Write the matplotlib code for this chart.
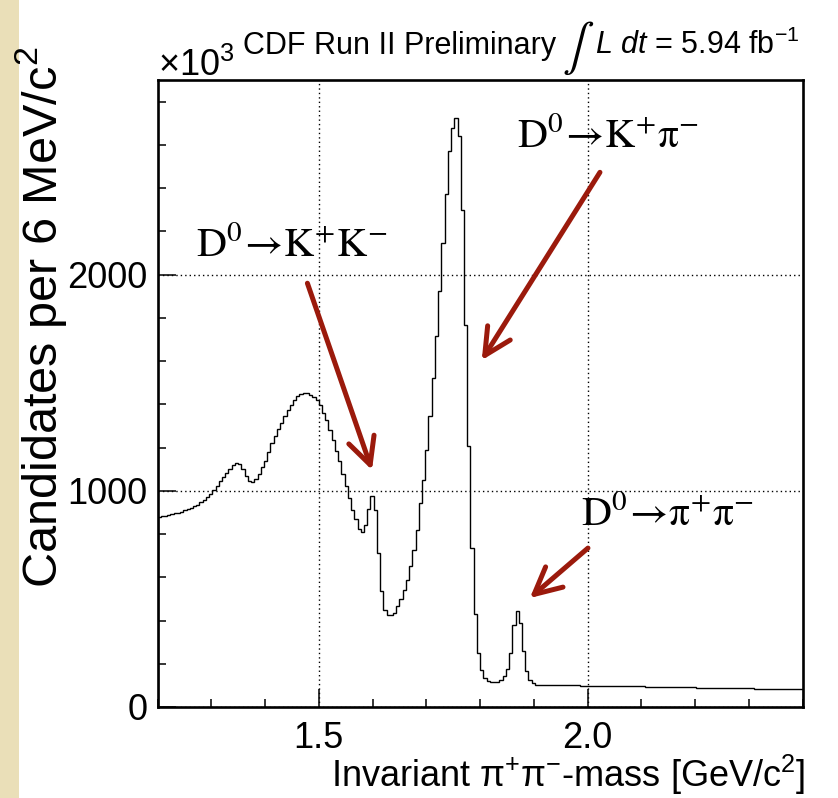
import numpy as np
import matplotlib
matplotlib.use("Agg")
import matplotlib.pyplot as plt
from matplotlib.ticker import MultipleLocator, FixedLocator
from matplotlib.patches import Rectangle

# ---------------- data ----------------
bin_low = 1.2
bin_width = 0.006   # 6 MeV/c^2 bins
counts = [
    878, 882, 885, 888, 891, 895, 899, 904, 909, 915,
    921, 928, 936, 946, 958, 971, 987, 1003, 1022, 1043,
    1064, 1083, 1103, 1120, 1128, 1125, 1100, 1070, 1045, 1040,
    1055, 1078, 1108, 1140, 1180, 1222, 1255, 1285, 1315, 1345,
    1375, 1398, 1420, 1437, 1448, 1453, 1452, 1445, 1432, 1418,
    1395, 1362, 1327, 1282, 1236, 1182, 1136, 1076, 1020, 966,
    912, 869, 825, 808, 843, 915, 974, 909, 712, 538,
    449, 426, 426, 436, 465, 500, 542, 588, 650, 727,
    819, 943, 1051, 1190, 1344, 1522, 1714, 1923, 2147, 2371,
    2571, 2679, 2726, 2641, 2301, 1769, 1205, 735, 430, 250,
    171, 133, 122, 116, 114, 117, 125, 145, 175, 250,
    380, 446, 390, 260, 165, 125, 110, 104, 103, 103,
    102, 102, 102, 101, 101, 101, 101, 100, 100, 100,
    100, 99, 99, 99, 99, 98, 98, 98, 98, 97,
    97, 97, 97, 96, 96, 96, 96, 95, 95, 95,
    95, 94, 94, 94, 94, 93, 93, 93, 93, 92,
    92, 92, 92, 91, 91, 91, 91, 90, 90, 90,
    89, 89, 89, 89, 88, 88, 88, 88, 87, 87,
    87, 86, 86, 86, 86, 85, 85, 85, 85, 84,
    84, 84, 84, 83, 83, 83, 83, 82, 82, 82,
]
x_major = [1.5, 2.0]
x_major_labels = ["1.5", "2.0"]
y_major = [0, 1000, 2000]
y_major_labels = ["0", "1000", "2000"]

# annotations: label, label position, arrow start, arrow end (data coords)
ann_labels = [r"$\mathrm{D^0\!\rightarrow\! K^{+}K^{-}}$",
              r"$\mathrm{D^0\!\rightarrow\! K^{+}\pi^{-}}$",
              r"$\mathrm{D^0\!\rightarrow\! \pi^{+}\pi^{-}}$"]
ann_text_pos = [(1.272, 2130), (1.868, 2635), (1.987, 890)]
ann_arrow_from = [(1.4788, 1960), (2.0229, 2473), (2.0006, 735)]
ann_arrow_to = [(1.5989, 1096), (1.8031, 1604), (1.8925, 504)]

# ---------------- style ----------------
plt.rcParams['font.family'] = ['Liberation Sans', 'DejaVu Sans']
plt.rcParams['mathtext.fontset'] = 'custom'
plt.rcParams['mathtext.rm'] = 'Liberation Sans'
plt.rcParams['mathtext.it'] = 'Liberation Sans:italic'
plt.rcParams['mathtext.bf'] = 'Liberation Sans:bold'
plt.rcParams['mathtext.sf'] = 'Liberation Sans'

W, H = 838, 798
fig = plt.figure(figsize=(W / 100, H / 100), dpi=100)
fig.patch.set_facecolor('white')
fig.patches.append(Rectangle((0, 0), 19 / W, 1, transform=fig.transFigure,
                             facecolor='#eadfb8', edgecolor='none', zorder=0))

L, R, B, T = 157.5, 802.7, 707, 80
ax = fig.add_axes([L / W, 1 - B / H, (R - L) / W, (B - T) / H])

edges = bin_low + bin_width * np.arange(len(counts) + 1)
ax.stairs(counts, edges, color='black', linewidth=1.0, zorder=3)

ax.set_xlim(1.2, 2.4)
ax.set_ylim(0, 2900)

ax.xaxis.set_major_locator(FixedLocator(x_major))
ax.set_xticklabels(x_major_labels)
ax.xaxis.set_minor_locator(MultipleLocator(0.1))
ax.yaxis.set_major_locator(FixedLocator(y_major))
ax.set_yticklabels(y_major_labels)
ax.yaxis.set_minor_locator(MultipleLocator(200))

ax.tick_params(which='both', direction='in', top=False, right=False,
               width=1.1, colors='black', labelsize=26)
ax.tick_params(which='major', length=13)
ax.tick_params(which='minor', length=6)
ax.tick_params(axis='x', which='major', pad=10)
ax.tick_params(axis='y', which='major', pad=7)
for s in ax.spines.values():
    s.set_linewidth(1.9)

ax.grid(True, which='major', color='black', linestyle=(0, (1, 2.2)), linewidth=1.0)

# annotations
for lab, tp, a0, a1 in zip(ann_labels, ann_text_pos, ann_arrow_from, ann_arrow_to):
    ax.text(tp[0], tp[1], lab, fontsize=30, ha='left', va='center',
            math_fontfamily='stix', zorder=5)
    ax.annotate('', xy=a1, xytext=a0,
                arrowprops=dict(arrowstyle='->,head_length=1.2,head_width=0.6',
                                color='#9b1a0c', lw=3.6, shrinkA=0, shrinkB=0,
                                mutation_scale=16), zorder=6)

# axis titles
fig.text(805 / W, 1 - 775 / H, r'Invariant π$^{+}$π$^{-}$-mass [GeV/c$^{2}$]',
         ha='right', va='center', fontsize=26)
fig.text(41 / W, 1 - 47 / H, r'Candidates per 6 MeV/c$^{2}$', rotation=90,
         ha='center', va='top', fontsize=35)
fig.text(158 / W, 1 - 66 / H, r'×10$^{3}$', ha='left', va='center', fontsize=26)

# header: "CDF Run II Preliminary  ∫L dt = 5.94 fb^-1"
base_y = 1 - 54 / H
t1 = fig.text(243 / W, base_y, 'CDF Run II Preliminary', ha='left',
              va='baseline', fontsize=22)
fig.canvas.draw()
r = fig.canvas.get_renderer()
x1 = t1.get_window_extent(r).x1
t2 = fig.text((x1 + 6) / W, 1 - 60 / H, r'$\int$', ha='left', va='baseline',
              fontsize=34, math_fontfamily='stix')
x2 = t2.get_window_extent(r).x1
fig.text((x2 + 1) / W, base_y, r'$L\ dt$ = 5.94 fb$^{-1}$', ha='left',
         va='baseline', fontsize=22)

fig.savefig('out.png', dpi=100)
